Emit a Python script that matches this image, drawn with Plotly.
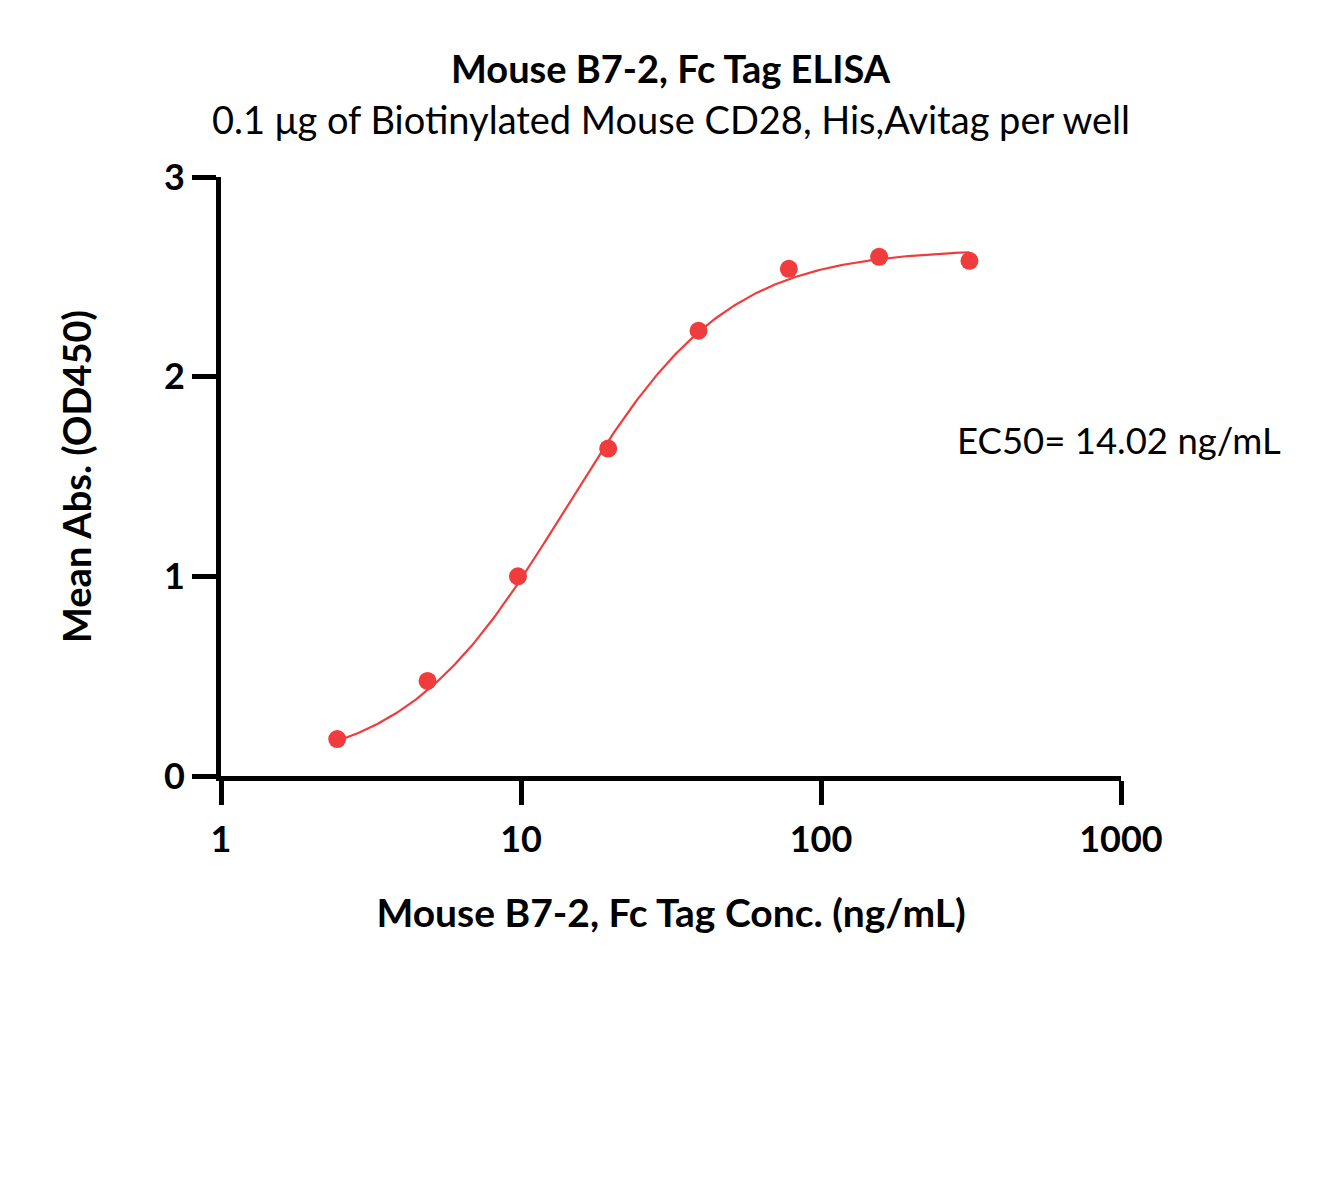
import numpy as np
import plotly.graph_objects as go

conc = [2.44, 4.88, 9.77, 19.53, 39.06, 78.13, 156.25, 312.5]
od450 = [0.185, 0.476, 1.00, 1.64, 2.23, 2.54, 2.60, 2.58]

# 4PL fit parameters (estimated)
fit_bottom = 0.03
fit_top = 2.64
fit_ec50 = 14.02
fit_hill = 1.62

x_tickvals = [1, 10, 100, 1000]
x_ticktext = ["1", "10", "100", "1000"]
y_tickvals = [0, 1, 2, 3]

xs = np.logspace(np.log10(conc[0]), np.log10(conc[-1]), 300)
ys = fit_bottom + (fit_top - fit_bottom) / (1 + (fit_ec50 / xs) ** fit_hill)

red = "#F03C3C"
FONT = "Lato"

fig = go.Figure()
fig.add_trace(go.Scatter(x=xs, y=ys, mode="lines", line=dict(color=red, width=2.2),
                         showlegend=False, hoverinfo="skip"))
fig.add_trace(go.Scatter(x=conc, y=od450, mode="markers",
                         marker=dict(color=red, size=18), showlegend=False))

fig.update_layout(
    width=1327, height=1185,
    paper_bgcolor="white", plot_bgcolor="white",
    margin=dict(l=213, r=214, t=169, b=417),
    font=dict(family=FONT, color="black"),
    xaxis=dict(type="log", range=[0, 3], tickvals=x_tickvals, ticktext=x_ticktext,
               showgrid=False, zeroline=False, showline=True, linecolor="black", linewidth=5,
               ticks="outside", ticklen=24, tickwidth=5, tickcolor="black",
               tickfont=dict(family=FONT, size=36, color="black", weight="bold"),
               ticklabelstandoff=4,
               title=dict(text="<b>Mouse B7-2, Fc Tag Conc. (ng/mL)</b>",
                          font=dict(family=FONT, size=39, color="black"), standoff=42)),
    yaxis=dict(range=[0, 3], tickvals=y_tickvals, showgrid=False, zeroline=False,
               showline=True, linecolor="black", linewidth=5,
               ticks="outside", ticklen=24, tickwidth=5, tickcolor="black",
               tickfont=dict(family=FONT, size=36, color="black", weight="bold"),
               ticklabelstandoff=0,
               title=dict(text="<b>Mean Abs. (OD450)</b>",
                          font=dict(family=FONT, size=38, color="black"), standoff=62)),
    annotations=[
        dict(text="<b>Mouse B7-2, Fc Tag ELISA</b>", xref="paper", yref="paper",
             x=0.5, y=1.182, showarrow=False, xanchor="center", yanchor="middle",
             font=dict(family=FONT, size=38, color="black")),
        dict(text="0.1 μg of Biotinylated Mouse CD28, His,Avitag per well", xref="paper", yref="paper",
             x=0.5, y=1.097, showarrow=False, xanchor="center", yanchor="middle",
             font=dict(family=FONT, size=38, color="black")),
        dict(text="EC50= 14.02 ng/mL", xref="paper", yref="paper",
             x=0.816, y=0.561, showarrow=False, xanchor="left", yanchor="middle",
             font=dict(family=FONT, size=36.5, color="black")),
    ],
)

fig.write_html("out.html")
